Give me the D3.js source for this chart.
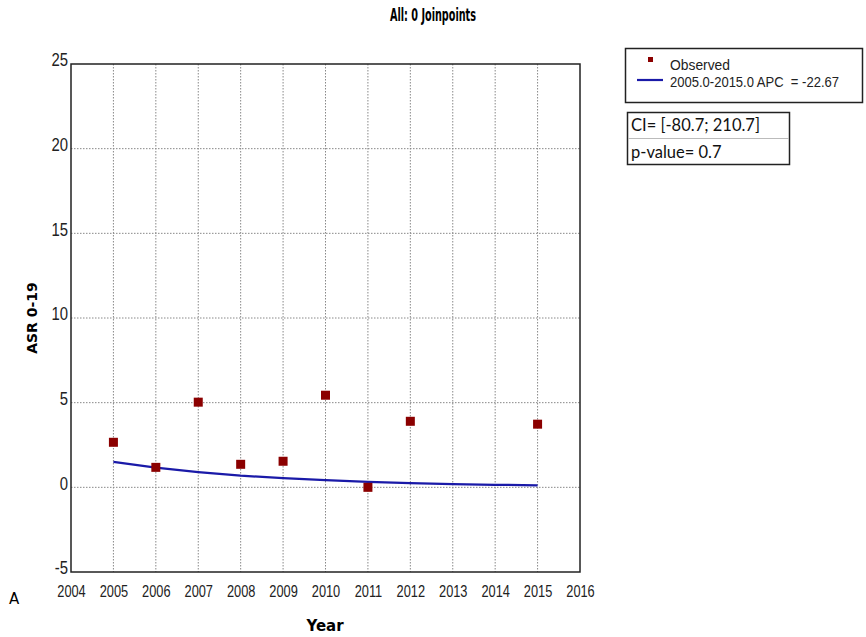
<!DOCTYPE html>
<html><head><meta charset="utf-8">
<script src="https://cdn.jsdelivr.net/npm/d3@7"></script>
<style>body{margin:0;background:#fff}</style>
</head><body>
<svg id="c" width="866" height="637"></svg>
<script>
const years = [2005, 2006, 2007, 2008, 2009, 2010, 2011, 2012, 2015];
const observed = [2.66, 1.18, 5.03, 1.36, 1.54, 5.44, 0.0, 3.9, 3.73];
const fitYears = [2005, 2006, 2007, 2008, 2009, 2010, 2011, 2012, 2013, 2014, 2015];
const fitted = [1.50, 1.16, 0.90, 0.69, 0.54, 0.42, 0.32, 0.25, 0.19, 0.15, 0.12];
const xTicks = [2004, 2005, 2006, 2007, 2008, 2009, 2010, 2011, 2012, 2013, 2014, 2015, 2016];
const yTicks = [-5, 0, 5, 10, 15, 20, 25];

const svg = d3.select("#c");
const L = 71, R = 580, T = 64, B = 572;
const x = d3.scaleLinear().domain([2004, 2016]).range([L, R]);
const y = d3.scaleLinear().domain([-5, 25]).range([B, T]);
const sans = "'Liberation Sans',Arial,sans-serif";

function squeeze(sel, f) {
  sel.each(function () {
    const w = this.getComputedTextLength();
    d3.select(this).attr("textLength", w * f).attr("lengthAdjust", "spacingAndGlyphs");
  });
}

// grid
svg.append("g").selectAll("line").data(xTicks.filter(d => d > 2004 && d < 2016)).join("line")
  .attr("x1", d => x(d)).attr("x2", d => x(d)).attr("y1", T).attr("y2", B)
  .attr("stroke", "#888").attr("stroke-width", 1).attr("stroke-dasharray", "1.5,1.5");
svg.append("g").selectAll("line").data(yTicks.filter(d => d > -5 && d < 25)).join("line")
  .attr("x1", L).attr("x2", R).attr("y1", d => y(d)).attr("y2", d => y(d))
  .attr("stroke", "#888").attr("stroke-width", 1).attr("stroke-dasharray", "1.5,1.5");

// frame
svg.append("rect").attr("x", L).attr("y", T).attr("width", R - L).attr("height", B - T)
  .attr("fill", "none").attr("stroke", "#222").attr("stroke-width", 1.5);

// axes
const xa = svg.append("g").attr("transform", `translate(0,${B})`)
  .call(d3.axisBottom(x).tickValues(xTicks).tickFormat(d => String(d)).tickSize(0).tickPadding(14));
const ya = svg.append("g").attr("transform", `translate(${L},0)`)
  .call(d3.axisLeft(y).tickValues(yTicks).tickFormat(d => String(d)).tickSize(0).tickPadding(3));
xa.select(".domain").remove();
ya.select(".domain").remove();
xa.selectAll("text").attr("font-family", sans).attr("font-size", 16).attr("fill", "#222");
ya.selectAll("text").attr("font-family", sans).attr("font-size", 17.5).attr("fill", "#222");
squeeze(xa.selectAll("text"), 0.8);
squeeze(ya.selectAll("text"), 0.85);
ya.selectAll("text").attr("dy", "0.1em");

// fitted line
svg.append("path").datum(fitYears.map((d, i) => [d, fitted[i]]))
  .attr("d", d3.line().x(d => x(d[0])).y(d => y(d[1])))
  .attr("fill", "none").attr("stroke", "#1a1aa8").attr("stroke-width", 2.2);

// observed points
svg.append("g").selectAll("rect").data(years.map((d, i) => [d, observed[i]])).join("rect")
  .attr("x", d => x(d[0]) - 4.5).attr("y", d => y(d[1]) - 4.5)
  .attr("width", 9).attr("height", 9).attr("fill", "#8b0000");

// titles
svg.append("text").attr("x", 433).attr("y", 21).attr("text-anchor", "middle")
  .attr("font-family", "'DejaVu Sans Condensed','DejaVu Sans',sans-serif").attr("font-weight", "bold")
  .attr("font-size", 17.5).text("All: 0 Joinpoints")
  .attr("textLength", 86).attr("lengthAdjust", "spacingAndGlyphs");
svg.append("text").attr("x", 325).attr("y", 631).attr("text-anchor", "middle")
  .attr("font-family", "'DejaVu Sans',sans-serif").attr("font-weight", "bold")
  .attr("font-size", 15).text("Year");
svg.append("text").attr("transform", "translate(37,318) rotate(-90)").attr("text-anchor", "middle")
  .attr("font-family", "'DejaVu Sans',sans-serif").attr("font-weight", "bold")
  .attr("font-size", 14).text("ASR 0-19");
svg.append("text").attr("x", 9).attr("y", 604)
  .attr("font-family", "'DejaVu Sans',sans-serif").attr("font-size", 15).text("A");

// legend
svg.append("rect").attr("x", 625.5).attr("y", 48.5).attr("width", 237).attr("height", 54)
  .attr("fill", "#fff").attr("stroke", "#222").attr("stroke-width", 1.5);
svg.append("rect").attr("x", 648).attr("y", 57).attr("width", 5).attr("height", 5).attr("fill", "#8b0000");
svg.append("text").attr("x", 670).attr("y", 70).attr("font-family", sans).attr("font-size", 15)
  .attr("fill", "#222").text("Observed").attr("textLength", 60).attr("lengthAdjust", "spacingAndGlyphs");
svg.append("line").attr("x1", 637).attr("x2", 663).attr("y1", 80).attr("y2", 80)
  .attr("stroke", "#1a1aa8").attr("stroke-width", 2.2);
svg.append("text").attr("x", 670).attr("y", 87).attr("font-family", sans).attr("font-size", 15)
  .attr("fill", "#222").attr("xml:space", "preserve").text("2005.0-2015.0 APC  = -22.67")
  .attr("textLength", 169).attr("lengthAdjust", "spacingAndGlyphs");

// CI box
svg.append("rect").attr("x", 627.5).attr("y", 112.5).attr("width", 162).attr("height", 52)
  .attr("fill", "#fff").attr("stroke", "#222").attr("stroke-width", 1.5);
svg.append("line").attr("x1", 628).attr("x2", 789).attr("y1", 138.5).attr("y2", 138.5)
  .attr("stroke", "#bbb").attr("stroke-width", 1);
svg.append("text").attr("x", 631).attr("y", 131).attr("font-family", "Lato,'Open Sans',sans-serif")
  .attr("font-size", 16.5).attr("fill", "#111").text("CI= [-80.7; 210.7]");
svg.append("text").attr("x", 631).attr("y", 158).attr("font-family", "Lato,'Open Sans',sans-serif")
  .attr("font-size", 16.5).attr("fill", "#111").text("p-value= 0.7");
</script>
</body></html>
